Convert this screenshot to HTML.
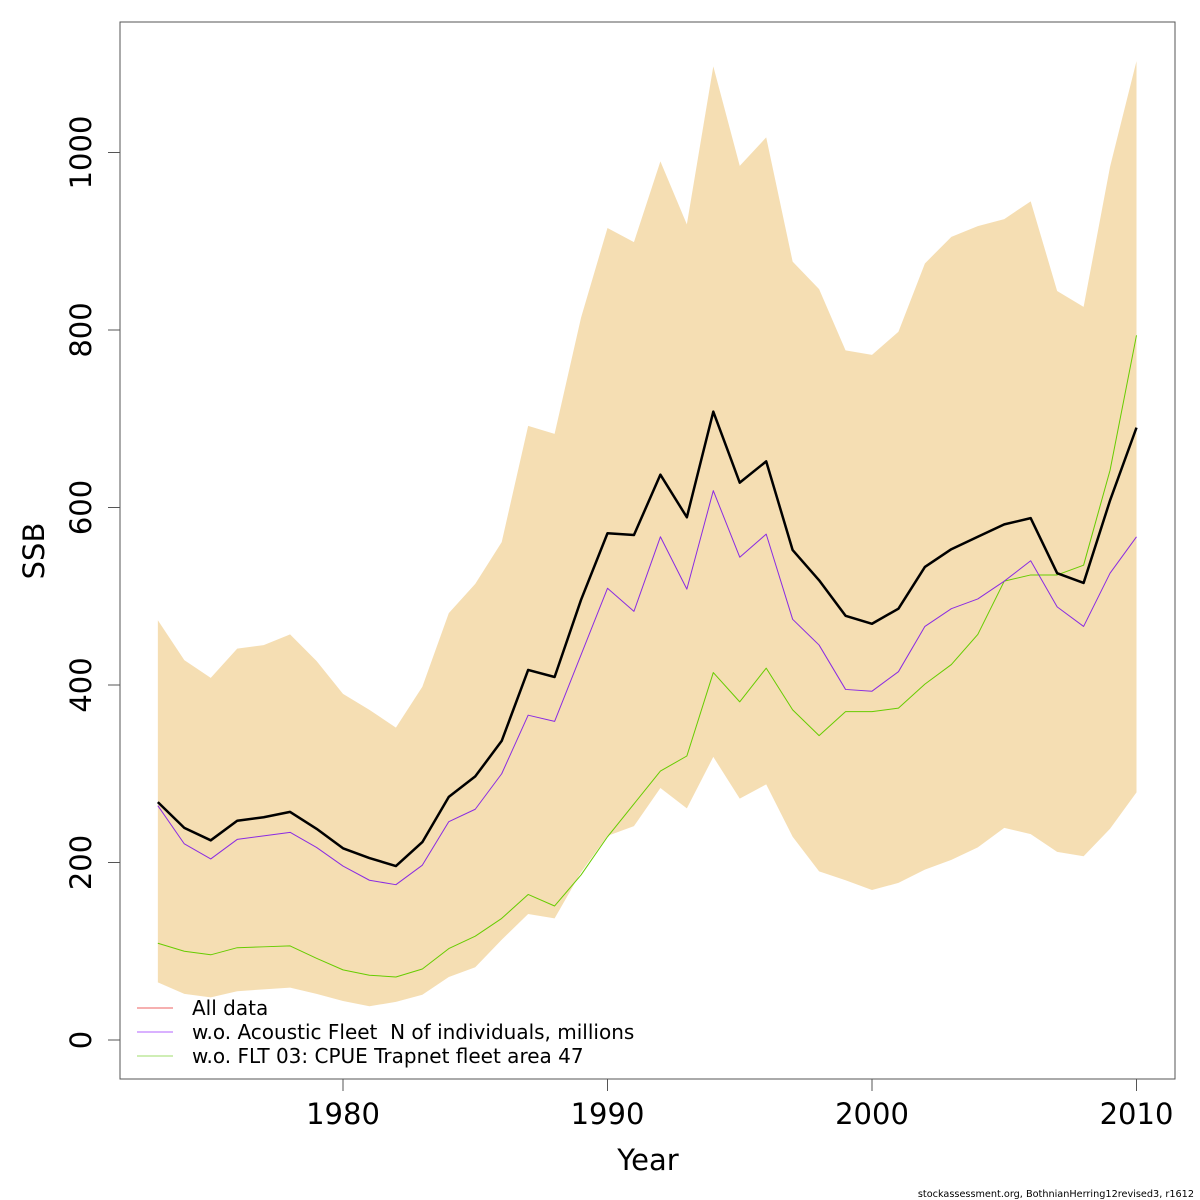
<!DOCTYPE html>
<html><head><meta charset="utf-8"><style>
html,body{margin:0;padding:0;background:#fff;}
svg{display:block;font-family:"DejaVu Sans","Liberation Sans",sans-serif;}
.leg{white-space:pre;}
</style></head><body>
<svg id="chart" width="1200" height="1200" viewBox="0 0 1200 1200">
<g id="plot"></g>
<rect x="120" y="22" width="1055" height="1057" fill="none" stroke="#555" stroke-width="1"/>
<g id="axes"></g>
<text x="648" y="1170" font-size="29" text-anchor="middle">Year</text>
<text transform="translate(44,551) rotate(-90)" font-size="29" text-anchor="middle">SSB</text>
<g>
<line x1="137" y1="1008" x2="173" y2="1008" stroke="#f08080" stroke-width="1.2"/>
<text class="leg" x="192" y="1015" font-size="20">All data</text>
<line x1="137" y1="1032" x2="173" y2="1032" stroke="#9b30ff" stroke-width="1.2" opacity="0.6"/>
<text class="leg" x="192" y="1039" font-size="20" xml:space="preserve">w.o. Acoustic Fleet  N of individuals, millions</text>
<line x1="137" y1="1056" x2="173" y2="1056" stroke="#7fd13b" stroke-width="1.2" opacity="0.6"/>
<text class="leg" x="192" y="1063" font-size="20">w.o. FLT 03: CPUE Trapnet fleet area 47</text>
</g>
<text x="1194" y="1197" font-size="9.7" text-anchor="end">stockassessment.org, BothnianHerring12revised3, r1612</text>
</svg>
<script>
const years=[1973,1974,1975,1976,1977,1978,1979,1980,1981,1982,1983,1984,1985,1986,1987,1988,1989,1990,1991,1992,1993,1994,1995,1996,1997,1998,1999,2000,2001,2002,2003,2004,2005,2006,2007,2008,2009,2010];
const ssbAll=[268,239,225,247,251,257,238,216,205,196,223,274,297,337,417,409,496,571,569,637,589,708,628,652,552,518,478,469,486,533,553,567,581,588,526,515,608,690];
const ssbNoAcoustic=[264,221,204,226,230,234,217,196,180,175,197,246,260,300,366,359,434,509,483,567,508,619,544,570,474,445,395,393,415,466,486,497,517,540,488,466,526,567];
const ssbNoFlt03=[109,100,96,104,105,106,92,79,73,71,80,103,117,137,164,151,186,229,266,303,320,414,381,419,372,343,370,370,374,401,423,457,517,524,524,535,642,794];
const upper=[473,428,408,441,445,457,427,390,372,352,398,481,514,561,692,683,814,915,899,990,919,1097,985,1017,877,846,777,772,798,875,905,917,925,945,844,826,984,1103];
const lower=[65,52,48,55,57,59,52,44,38,43,51,71,82,113,142,137,189,230,241,284,261,319,272,288,229,190,180,169,177,192,203,217,239,232,212,207,238,279];
const xTicks=[1980,1990,2000,2010];
const yTicks=[0,200,400,600,800,1000];

const NS='http://www.w3.org/2000/svg';
const xs=y=>343+(y-1980)*26.45;
const ys=v=>1040-v*0.8875;
const plot=document.getElementById('plot');
const axes=document.getElementById('axes');
function mk(tag,attrs,parent){const e=document.createElementNS(NS,tag);for(const k in attrs)e.setAttribute(k,attrs[k]);parent.appendChild(e);return e;}

let d='';
years.forEach((y,i)=>{d+=(i?'L':'M')+xs(y)+','+ys(upper[i]);});
for(let i=years.length-1;i>=0;i--)d+='L'+xs(years[i])+','+ys(lower[i]);
const band=mk('path',{d:d+'Z',fill:'#f5deb3'},plot);



function line(vals,color,w,name){
  const p=vals.map((v,i)=>xs(years[i])+','+ys(v)).join(' ');
  const el=mk('polyline',{points:p,fill:'none',stroke:color,'stroke-width':w,'stroke-linejoin':'round'},plot);
  
  
}
line(ssbNoFlt03,'#66cc00',1,'line-without-flt03');
line(ssbNoAcoustic,'#8a2be2',1,'line-without-acoustic');
line(ssbAll,'#000',2.5,'line-all-data');

xTicks.forEach(t=>{
  const tk=mk('line',{x1:xs(t),x2:xs(t),y1:1079,y2:1091,stroke:'#555'},axes);
  
  
  const tx=mk('text',{x:xs(t),y:1124,'font-size':29,'text-anchor':'middle'},axes);
  tx.textContent=t;
  
  
});
yTicks.forEach(t=>{
  const tk=mk('line',{x1:108,x2:120,y1:ys(t),y2:ys(t),stroke:'#555'},axes);
  
  
  const tx=mk('text',{transform:'translate(91,'+ys(t)+') rotate(-90)','font-size':29,'text-anchor':'middle'},axes);
  tx.textContent=t;
  
  
});
</script>
</body></html>
